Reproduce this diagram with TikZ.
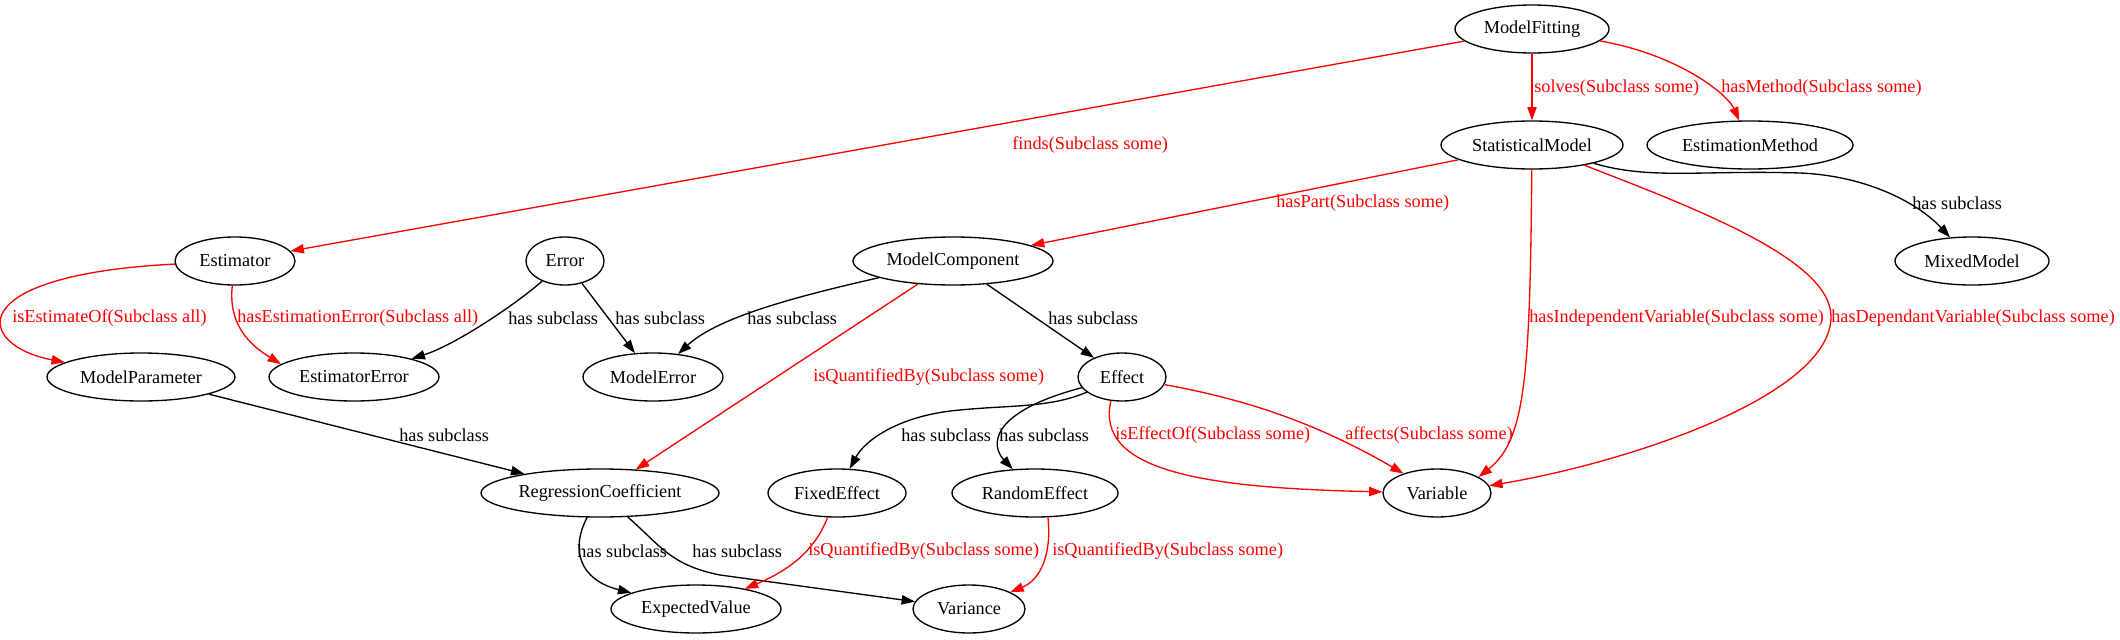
\documentclass[tikz,border=0pt]{standalone}
\usepackage{fontspec}
\setmainfont{Liberation Serif}
\usepackage{tikz}
\usetikzlibrary{arrows.meta}
\usetikzlibrary{shapes.geometric}

\begin{document}
\begin{tikzpicture}[x=0.75pt, y=-0.75pt,
		clase/.style={ellipse, draw, line width=1pt, inner sep=0pt, minimum height=36pt, font=\fontsize{13.7pt}{16pt}\selectfont},
		sub/.style={draw, line width=1pt, -{Triangle[length=10pt, width=7pt]}},
		rel/.style={sub, red},
		etq/.style={anchor=west, inner sep=0pt, font=\fontsize{13.7pt}{16pt}\selectfont},
		etqr/.style={etq, text=red}]
			\useasboundingbox (0,0) rectangle (2120,639); % marco
			% clases
			\node [clase, minimum width=115.5pt] (MF) at (1532,29) {ModelFitting};
			\node [clase, minimum width=136.5pt] (SM) at (1532,145) {StatisticalModel};
			\node [clase, minimum width=154.5pt] (EM) at (1750,145) {EstimationMethod};
			\node [clase, minimum width=90pt] (Est) at (235,261) {Estimator};
			\node [clase, minimum width=58.5pt] (Err) at (565,261) {Error};
			\node [clase, minimum width=150pt] (MC) at (953,261) {ModelComponent};
			\node [clase, minimum width=115.5pt] (MxM) at (1972,261) {MixedModel};
			\node [clase, minimum width=141pt] (MP) at (141,377) {ModelParameter};
			\node [clase, minimum width=127.5pt] (EE) at (354,377) {EstimatorError};
			\node [clase, minimum width=105pt] (ME) at (653,377) {ModelError};
			\node [clase, minimum width=66pt] (Eff) at (1122,377) {Effect};
			\node [clase, minimum width=178.5pt] (RC) at (600,493) {RegressionCoefficient};
			\node [clase, minimum width=103.5pt] (FE) at (837,493) {FixedEffect};
			\node [clase, minimum width=124.5pt] (RE) at (1035,493) {RandomEffect};
			\node [clase, minimum width=81pt] (Var) at (1437,493) {Variable};
			\node [clase, minimum width=127.5pt] (EV) at (696,609) {ExpectedValue};
			\node [clase, minimum width=84pt] (Vnc) at (969,609) {Variance};
			% relaciones
			\draw [rel] (MF) -- (Est); % finds
			\draw [rel] (MF) -- (SM); % solves
			\draw [rel] (MF) .. controls (1680,55) and (1728,95) .. (EM); % hasMethod
			\draw [rel] (SM) -- (MC); % hasPart
			\draw [sub] (SM) .. controls (1650,180) and (1700,170) .. (1800,173) .. controls (1870,176) and (1920,205) .. (MxM);
			\draw [rel] (SM) .. controls (1530,380) and (1525,440) .. (Var.21); % independiente
			\draw [rel] (SM) .. controls (1700,210) and (1830,260) .. (1831,316) .. controls (1832,395) and (1630,462) .. (Var.8); % dependiente
			\draw [rel] (Est) .. controls (-40,275) and (-25,345) .. (MP);
			\draw [rel] (Est) .. controls (228,325) and (250,345) .. (EE.170);
			\draw [sub] (Err) .. controls (515,305) and (455,345) .. (EE);
			\draw [sub] (Err) -- (ME);
			\draw [sub] (MC) .. controls (780,300) and (715,320) .. (ME);
			\draw [sub] (MC) -- (Eff);
			\draw [rel] (MC) -- (RC); % isQuantifiedBy
			\draw [sub] (MP) -- (RC);
			\draw [sub] (Eff) .. controls (1050,408) and (1010,405) .. (960,410) .. controls (900,415) and (865,440) .. (FE);
			\draw [sub] (Eff) .. controls (990,412) and (990,445) .. (RE);
			\draw [rel] (Eff.-115) .. controls (1095,470) and (1200,488) .. (Var); % isEffectOf
			\draw [rel] (Eff) .. controls (1250,400) and (1320,425) .. (Var); % affects
			\draw [sub] (RC) .. controls (570,550) and (580,580) .. (EV);
			\draw [sub] (RC) .. controls (660,545) and (670,565) .. (720,575) -- (Vnc);
			\draw [rel] (FE) .. controls (815,550) and (790,570) .. (EV);
			\draw [rel] (RE.-62) .. controls (1052,555) and (1040,580) .. (Vnc);
			% etiquetas
			\node [etqr] (l-finds) at (1012,145) {finds(Subclass some)};
			\node [etqr] (l-solves) at (1534,88) {solves(Subclass some)};
			\node [etqr] (l-hasMethod) at (1721,88) {hasMethod(Subclass some)};
			\node [etqr] (l-hasPart) at (1276,203) {hasPart(Subclass some)};
			\node [etq] (l-sm-mm) at (1912,203) {has subclass};
			\node [etqr] (l-isEstimateOf) at (12,318) {isEstimateOf(Subclass all)};
			\node [etqr] (l-hasEstErr) at (237,318) {hasEstimationError(Subclass all)};
			\node [etq] (l-err-ee) at (508,318) {has subclass};
			\node [etq] (l-err-me) at (615,318) {has subclass};
			\node [etq] (l-mc-me) at (747,318) {has subclass};
			\node [etq] (l-mc-eff) at (1048,318) {has subclass};
			\node [etqr] (l-indep) at (1529,318) {hasIndependentVariable(Subclass some)};
			\node [etqr] (l-dep) at (1831,318) {hasDependantVariable(Subclass some)};
			\node [etqr] (l-mc-rc) at (813,377) {isQuantifiedBy(Subclass some)};
			\node [etq] (l-mp-rc) at (399,435) {has subclass};
			\node [etq] (l-eff-fe) at (901,435) {has subclass};
			\node [etq] (l-eff-re) at (999,435) {has subclass};
			\node [etqr] (l-isEffectOf) at (1115,435) {isEffectOf(Subclass some)};
			\node [etqr] (l-affects) at (1345,435) {affects(Subclass some)};
			\node [etq] (l-rc-ev) at (577,551) {has subclass};
			\node [etq] (l-rc-vnc) at (692,551) {has subclass};
			\node [etqr] (l-fe-ev) at (808,551) {isQuantifiedBy(Subclass some)};
			\node [etqr] (l-re-vnc) at (1052,551) {isQuantifiedBy(Subclass some)};
		\end{tikzpicture}
\end{document}
